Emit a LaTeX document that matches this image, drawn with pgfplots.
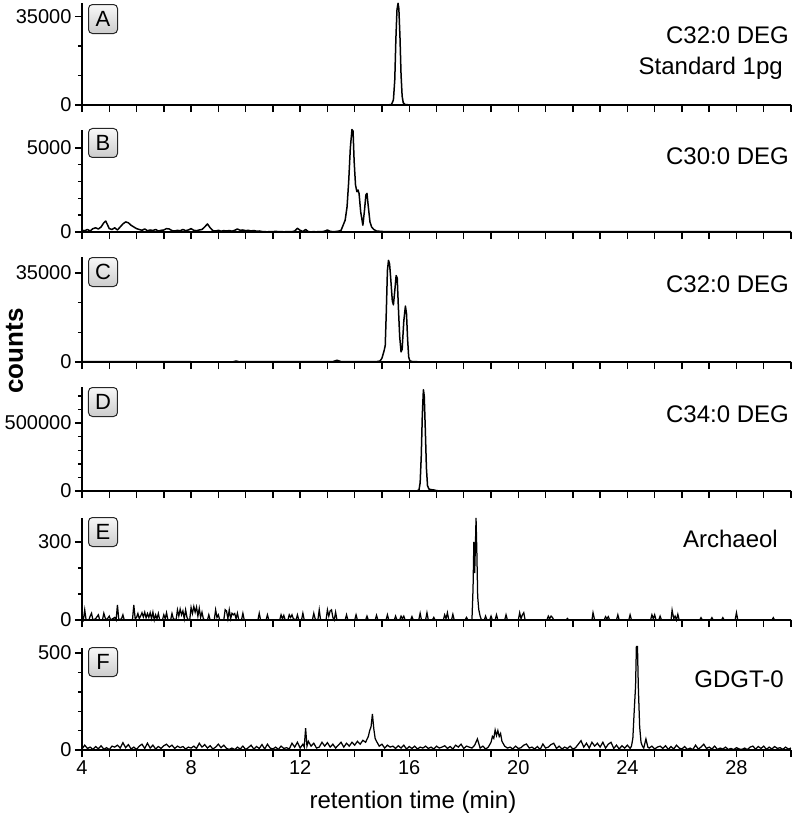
\documentclass[border=0pt]{standalone}
\usepackage{pgfplots}
\pgfplotsset{compat=1.18}
\usepackage{fontspec}
\setmainfont{Liberation Sans}
\pgfplotsset{
 panel/.style={
  scale only axis, width=709pt,
  xmin=4, xmax=30,
  axis lines*=left,
  axis line style={line width=1.7pt},
  tick style={line width=1.4pt, black},
  tick align=outside,
  major tick length=7pt, minor tick length=4pt,
  xtick={4,...,30}, xticklabels={},
  scaled y ticks=false,
  /pgf/number format/assume math mode=true,
  yticklabel style={/pgf/number format/fixed, /pgf/number format/1000 sep={}, font=\fontsize{20}{24}\selectfont},
  xticklabel style={font=\fontsize{20}{24}\selectfont},
  clip=false,
  anchor=south west,
 },
 trace/.style={black, line width=1.5pt, no marks, line join=round},
 noise/.style={black, line width=1.25pt, no marks, line join=miter},
}
\tikzset{
 pbox/.style={draw=black!85, line width=1pt, rounded corners=4pt, top color=gray!5, bottom color=gray!40,
   minimum width=29pt, minimum height=29pt, inner sep=0pt, anchor=north west, font=\fontsize{22}{24}\selectfont},
 lab/.style={anchor=base east, font=\fontsize{24}{28}\selectfont, inner sep=0pt},
}
\begin{document}
\begin{tikzpicture}
\path[use as bounding box] (0,0) rectangle (796pt,-819pt);
% ---------------- A
\begin{axis}[panel, at={(82pt,-105pt)}, height=102pt, ymin=0, ymax=40300,
  ytick={0,35000}, minor ytick={11666.7,23333.3}]
\addplot[trace] table {
x y
4 0
15.2 0
15.35 200
15.42 2000
15.47 10000
15.51 26000
15.55 37500
15.59 40200
15.62 38000
15.66 27000
15.7 12000
15.74 3500
15.78 900
15.85 200
16 50
30 0
};
\node[pbox] at (rel axis cs:0,1) [xshift=6pt,yshift=-1pt] {A};
\end{axis}
% ---------------- B
\begin{axis}[panel, at={(82pt,-232pt)}, height=102pt, ymin=0, ymax=6070,
  ytick={0,5000}, minor ytick={1000,2000,3000,4000}]
\addplot[trace] table {
x y
4.0 100
4.1 80
4.2 150
4.3 60
4.4 200
4.5 250
4.6 180
4.7 300
4.8 550
4.87 650
4.93 450
5.0 200
5.1 150
5.2 250
5.3 120
5.4 300
5.5 480
5.6 600
5.7 550
5.8 400
5.9 300
6.0 200
6.1 150
6.2 100
6.3 180
6.4 80
6.5 120
6.6 90
6.7 150
6.8 60
6.9 100
7.0 120
7.1 200
7.2 180
7.3 80
7.4 60
7.5 100
7.6 70
7.7 150
7.8 80
7.9 120
8.0 200
8.1 100
8.2 80
8.3 120
8.4 150
8.5 300
8.6 480
8.7 250
8.8 80
8.9 60
9.0 100
9.1 50
9.2 80
9.3 60
9.4 90
9.5 50
9.6 100
9.7 180
9.8 100
9.9 120
10.0 80
10.1 100
10.2 60
10.3 90
10.4 50
10.5 60
10.6 30
10.7 20
10.8 10
10.9 30
11.0 20
11.1 40
11.2 20
11.3 30
11.4 10
11.5 20
11.6 30
11.7 20
11.8 60
11.9 220
12.0 100
12.1 30
12.2 150
12.3 20
12.4 10
12.5 20
12.6 10
12.7 30
12.8 20
12.9 50
13.0 120
13.1 40
13.2 20
13.3 30
13.4 50
13.5 100
13.55 300
13.65 700
13.72 1500
13.78 3000
13.84 5000
13.9 6100
13.94 6000
13.98 4200
14.03 2800
14.08 2400
14.12 2500
14.16 2300
14.22 1200
14.3 400
14.36 1300
14.41 2200
14.45 2300
14.5 1500
14.56 600
14.62 300
14.7 150
14.8 60
15.0 30
30 20
};
\node[pbox] at (rel axis cs:0,1) [xshift=6pt,yshift=2pt] {B};
\end{axis}
% ---------------- C
\begin{axis}[panel, at={(82pt,-362pt)}, height=105pt, ymin=0, ymax=41300,
  ytick={0,35000}, minor ytick={11666.7,23333.3}]
\addplot[trace] table {
x y
4.0 100
6.0 150
8.0 100
9.55 100
9.65 400
9.75 100
13.2 150
13.35 700
13.5 150
14.0 100
14.8 150
14.93 400
15.0 1500
15.08 4500
15.12 6500
15.16 20000
15.2 36000
15.24 40000
15.28 38500
15.32 33000
15.38 24000
15.42 22500
15.47 28000
15.52 34000
15.56 33000
15.6 22000
15.65 10000
15.7 4000
15.74 5000
15.8 16000
15.86 22000
15.9 19000
15.94 9000
15.98 2000
16.02 500
16.1 200
16.3 100
30 80
};
\node[pbox] at (rel axis cs:0,1) [xshift=6pt] {C};
\end{axis}
% ---------------- D
\begin{axis}[panel, at={(82pt,-491pt)}, height=104pt, ymin=0, ymax=765000,
  ytick={0,500000}, minor ytick={100000,200000,300000,400000,600000,700000}]
\addplot[trace] table {
x y
4 0
16.2 0
16.3 2000
16.36 10000
16.4 60000
16.44 250000
16.48 560000
16.52 745000
16.55 700000
16.59 450000
16.63 170000
16.67 40000
16.72 15000
16.8 10000
16.9 8000
17.0 3000
17.1 500
17.3 0
30 0
};
\node[pbox] at (rel axis cs:0,1) [xshift=6pt] {D};
\end{axis}
% ---------------- E
\begin{axis}[panel, at={(82pt,-620pt)}, height=102pt, ymin=0, ymax=392,
  ytick={0,300}, minor ytick={100,200}]
\addplot[noise] table {
x y
4.0 10
4.05 0
4.1 39
4.15 0
4.25 0
4.3 15
4.35 26
4.4 0
4.5 5
4.6 20
4.65 0
4.75 0
4.8 26
4.85 8
4.9 0
5.0 15
5.05 0
5.2 10
5.25 0
5.3 58
5.35 0
5.45 5
5.5 20
5.55 0
5.85 0
5.9 58
5.95 5
6.0 10
6.05 25
6.1 5
6.15 15
6.2 28
6.25 12
6.3 30
6.35 8
6.4 25
6.45 10
6.5 28
6.55 5
6.6 30
6.65 0
6.7 20
6.75 5
6.8 25
6.85 0
6.95 0
7.0 20
7.05 5
7.1 28
7.15 0
7.25 0
7.3 25
7.35 5
7.45 0
7.5 39
7.55 15
7.6 42
7.65 20
7.7 35
7.75 5
7.8 39
7.85 10
7.9 0
7.95 0
8.0 48
8.05 25
8.1 52
8.15 30
8.2 50
8.25 15
8.3 45
8.35 10
8.4 30
8.45 5
8.5 0
8.6 0
8.65 20
8.7 0
8.85 0
8.9 39
8.95 10
9.0 20
9.05 0
9.2 0
9.25 40
9.3 35
9.35 5
9.4 39
9.45 5
9.5 26
9.55 20
9.6 25
9.65 5
9.7 26
9.75 0
9.85 0
9.9 26
9.95 0
10.45 0
10.5 26
10.55 0
10.75 0
10.8 20
10.85 0
11.25 0
11.3 20
11.35 5
11.4 18
11.45 0
11.55 0
11.6 20
11.65 10
11.7 20
11.75 5
11.85 0
11.9 20
11.95 0
12.05 0
12.1 26
12.15 0
12.45 0
12.5 26
12.55 5
12.6 0
12.65 0
12.7 39
12.75 0
12.95 0
13.0 39
13.05 15
13.1 35
13.15 39
13.2 10
13.25 0
13.3 30
13.35 0
13.65 0
13.7 20
13.75 0
14.0 0
14.05 20
14.1 0
14.4 0
14.45 15
14.5 0
14.75 0
14.8 18
14.85 0
15.15 0
15.2 20
15.25 0
15.45 0
15.5 15
15.55 0
15.65 0
15.7 15
15.75 5
15.8 15
15.85 0
16.05 0
16.1 13
16.15 0
16.35 0
16.4 26
16.45 0
16.6 0
16.65 28
16.7 0
16.85 0
16.9 10
16.95 0
17.25 0
17.3 20
17.35 5
17.4 28
17.45 0
17.55 0
17.6 22
17.65 0
18.05 0
18.1 10
18.15 0
18.3 0
18.34 120
18.37 300
18.4 180
18.43 300
18.45 392
18.48 260
18.51 90
18.55 40
18.6 15
18.65 0
18.75 0
18.8 15
18.85 0
18.95 0
19.0 15
19.05 0
19.15 0
19.2 20
19.25 0
19.5 0
19.55 20
19.6 0
20.0 0
20.05 28
20.1 5
20.15 20
20.2 28
20.25 0
21.05 0
21.1 15
21.15 5
21.2 15
21.25 10
21.3 0
21.75 0
21.8 6
21.85 0
22.7 0
22.74 28
22.8 0
23.15 0
23.2 13
23.25 5
23.3 13
23.35 0
23.6 0
23.65 20
23.7 0
24.05 0
24.1 20
24.15 0
24.85 0
24.9 20
24.95 5
25.0 20
25.05 0
25.15 0
25.2 15
25.25 0
25.6 0
25.64 38
25.7 5
25.75 15
25.8 0
25.85 22
25.9 0
26.65 0
26.7 9
26.75 0
27.05 0
27.1 9
27.15 0
27.45 0
27.5 9
27.55 0
27.95 0
28.0 28
28.05 0
29.3 0
29.35 9
29.4 0
30.0 0
};
\node[pbox] at (rel axis cs:0,1) [xshift=6pt,yshift=1pt] {E};
\end{axis}
% ---------------- F
\begin{axis}[panel, at={(82pt,-750pt)}, height=102pt, ymin=0, ymax=526,
  ytick={0,500}, minor ytick={100,200,300,400},
  xtick={4,...,30}, xticklabels={4,,,,8,,,,12,,,,16,,,,20,,,,24,,,,28,,}]
\addplot[noise] table {
x y
4.0 5
4.1 25
4.2 8
4.3 15
4.4 3
4.5 18
4.6 6
4.7 22
4.8 4
4.9 12
5.0 2
5.1 20
5.2 15
5.3 25
5.4 10
5.5 38
5.6 12
5.7 28
5.8 5
5.9 15
6.0 3
6.1 20
6.2 30
6.3 8
6.4 35
6.5 10
6.6 25
6.7 5
6.8 18
6.9 8
7.0 22
7.1 30
7.2 15
7.3 25
7.4 8
7.5 20
7.6 12
7.7 18
7.8 5
7.9 15
8.0 10
8.1 20
8.2 8
8.3 35
8.4 15
8.5 28
8.6 10
8.7 22
8.8 5
8.9 15
9.0 30
9.1 12
9.2 25
9.3 8
9.4 3
9.5 10
9.6 2
9.7 15
9.8 5
9.9 20
10.0 3
10.1 12
10.2 25
10.3 5
10.4 18
10.5 8
10.6 28
10.7 5
10.8 30
10.9 10
11.0 5
11.1 15
11.2 3
11.3 20
11.4 8
11.5 12
11.6 5
11.7 35
11.8 15
11.9 40
12.0 10
12.1 30
12.15 15
12.2 112
12.25 20
12.3 45
12.4 20
12.5 35
12.6 10
12.7 15
12.8 40
12.9 20
13.0 38
13.1 15
13.2 30
13.3 10
13.4 25
13.5 40
13.6 15
13.7 35
13.8 20
13.9 40
14.0 25
14.1 45
14.2 30
14.3 50
14.4 40
14.5 70
14.55 100
14.6 120
14.65 186
14.7 110
14.75 60
14.8 45
14.9 20
15.0 30
15.1 10
15.2 25
15.3 15
15.4 20
15.5 8
15.6 22
15.7 10
15.8 25
15.9 5
16.0 18
16.1 8
16.2 20
16.3 5
16.4 15
16.5 10
16.6 20
16.7 8
16.8 15
16.9 5
17.0 20
17.1 10
17.2 15
17.3 22
17.4 8
17.5 18
17.6 5
17.7 25
17.8 15
17.9 30
18.0 8
18.1 20
18.2 15
18.3 10
18.4 25
18.5 57
18.6 10
18.7 20
18.8 5
18.9 15
19.0 40
19.05 70
19.1 60
19.15 103
19.2 75
19.25 100
19.3 70
19.35 85
19.4 45
19.5 20
19.6 10
19.7 15
19.8 5
19.9 20
20.0 8
20.1 12
20.2 25
20.3 31
20.4 10
20.5 15
20.6 5
20.7 18
20.8 3
20.9 31
21.0 10
21.1 15
21.2 28
21.3 35
21.4 8
21.5 20
21.6 5
21.7 15
21.8 8
21.9 20
22.0 5
22.1 12
22.2 30
22.3 48
22.4 15
22.5 35
22.6 10
22.7 40
22.8 20
22.9 35
23.0 15
23.1 40
23.2 10
23.3 30
23.4 40
23.5 8
23.6 25
23.7 5
23.8 22
23.9 10
24.0 25
24.1 8
24.15 20
24.2 60
24.25 200
24.3 330
24.33 534
24.37 534
24.4 330
24.45 120
24.5 40
24.55 20
24.6 10
24.68 57
24.75 15
24.8 10
24.9 20
25.0 5
25.1 15
25.2 20
25.3 8
25.4 22
25.5 3
25.6 18
25.7 5
25.8 25
25.9 10
26.0 5
26.1 18
26.2 3
26.3 10
26.4 2
26.5 25
26.6 5
26.7 15
26.8 30
26.9 8
27.0 15
27.1 5
27.2 20
27.3 3
27.4 10
27.5 5
27.6 15
27.7 3
27.8 8
27.9 2
28.0 12
28.1 5
28.2 3
28.3 10
28.4 2
28.5 15
28.6 20
28.7 5
28.8 18
28.9 8
29.0 20
29.1 3
29.2 15
29.3 5
29.4 18
29.5 8
29.6 12
29.7 3
29.8 15
29.9 5
30.0 10
};
\node[pbox] at (rel axis cs:0,1) [xshift=6pt,yshift=1pt] {F};
\end{axis}
% ---------------- labels
\node[lab] at (789pt,-43pt) {C32:0 DEG};
\node[lab] at (783pt,-74pt) {Standard 1pg};
\node[lab] at (789pt,-164pt) {C30:0 DEG};
\node[lab] at (789pt,-292pt) {C32:0 DEG};
\node[lab] at (789pt,-422pt) {C34:0 DEG};
\node[lab] at (778pt,-547pt) {Archaeol};
\node[lab] at (784pt,-687pt) {GDGT-0};
\node[anchor=base, font=\fontsize{24}{28}\selectfont, inner sep=0pt] at (413pt,-808pt) {retention time (min)};
\node[rotate=90, font=\fontsize{26}{30}\selectfont\bfseries, inner sep=0pt] at (14.5pt,-351pt) {counts};
\end{tikzpicture}
\end{document}
